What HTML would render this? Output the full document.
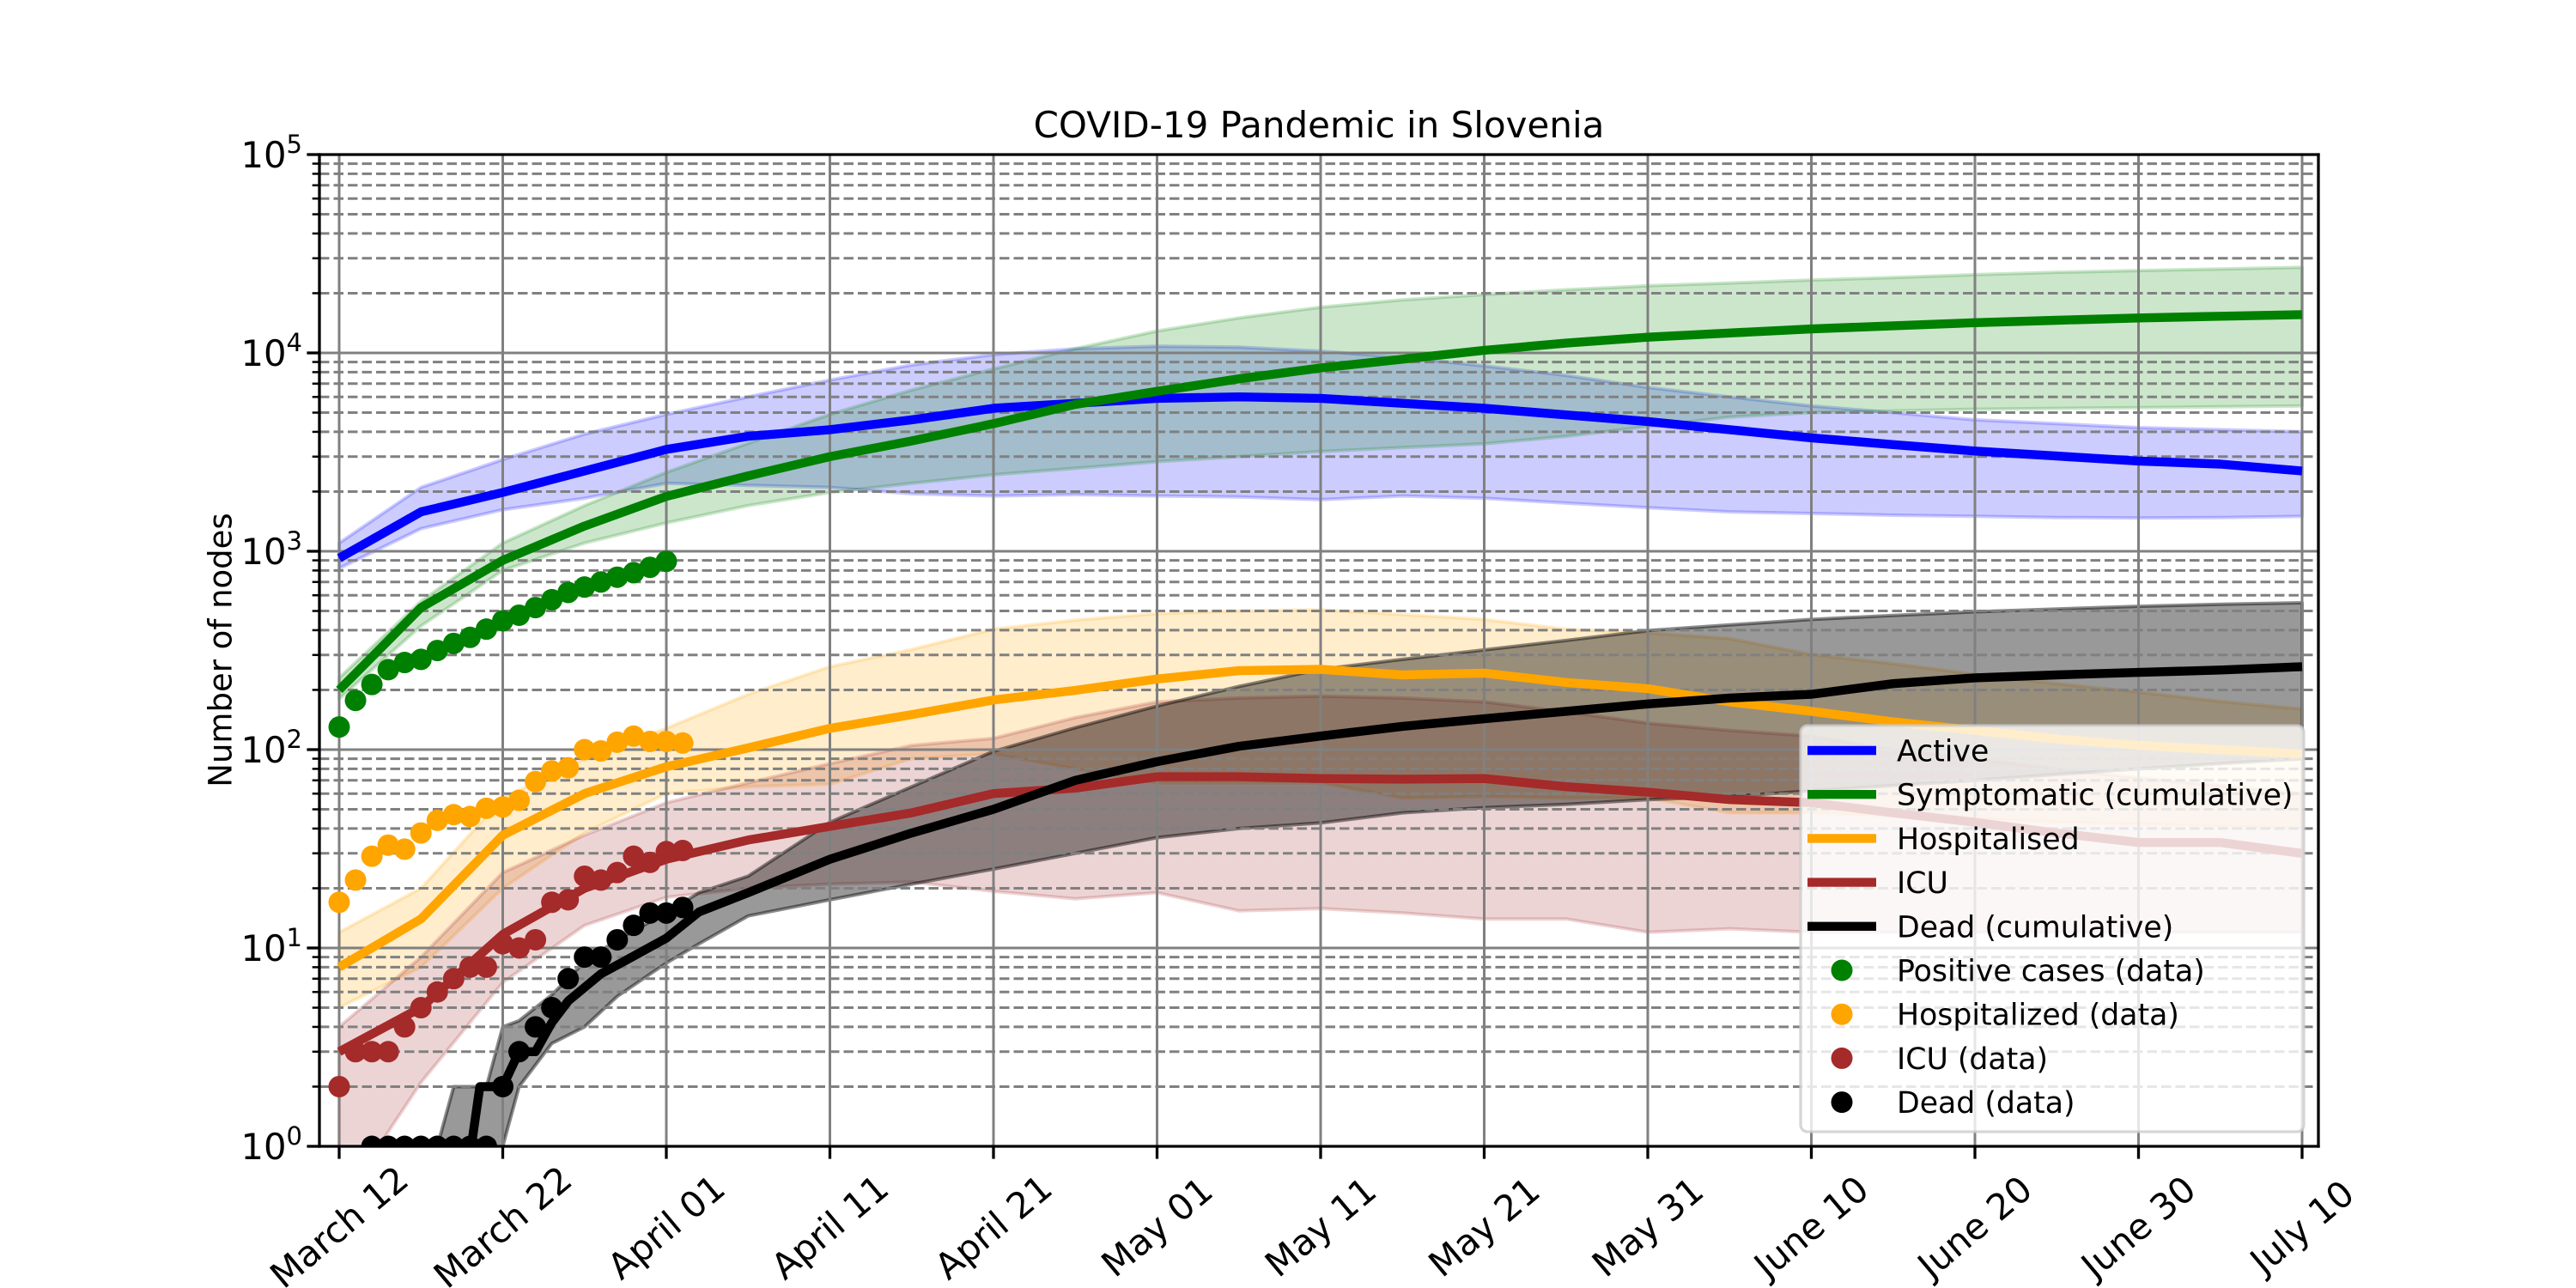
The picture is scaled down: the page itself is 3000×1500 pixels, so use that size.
<!DOCTYPE html>
<html><head><meta charset="utf-8"><title>COVID-19 Pandemic in Slovenia</title>
<style>html,body{margin:0;padding:0;background:#fff}svg{display:block}text{font-family:"DejaVu Sans","Liberation Sans",sans-serif;fill:#000}</style>
</head><body>
<svg id="chart" xmlns="http://www.w3.org/2000/svg" width="3000" height="1500" viewBox="0 0 3000 1500">
<defs><clipPath id="plotclip"><rect x="372" y="180" width="2328" height="1155"/></clipPath></defs>
<rect x="0" y="0" width="3000" height="1500" fill="#fff"/>
<text x="1536" y="160" font-size="42" text-anchor="middle">COVID-19 Pandemic in Slovenia</text>
<text x="0" y="0" font-size="37" text-anchor="middle" dominant-baseline="central" transform="translate(257,757) rotate(-90)">Number of nodes</text>
<g id="fills" clip-path="url(#plotclip)"></g>
<g id="grid"></g>
<g id="lines" clip-path="url(#plotclip)"></g>
<g id="dots" clip-path="url(#plotclip)"></g>
<g id="axes"></g>
<g id="legend"></g>
</svg>
<script>
// ---- data (days after March 12) ----
const modelDays = [0,5,10,15,20,25,30,35,40,45,50,55,60,65,70,75,80,85,90,95,100,105,110,115,120];
const activeMid = [923,1580,1980,2540,3260,3800,4100,4600,5260,5570,5900,6000,5900,5570,5260,4870,4510,4100,3730,3450,3200,3020,2850,2750,2540];
const activeHi = [1100,2100,2900,3900,4900,6000,7300,8700,9800,10500,10800,10700,10200,9500,8600,7700,6700,6000,5400,5000,4600,4400,4200,4100,4000];
const activeLo = [820,1300,1620,1850,2200,2150,2100,1950,1900,1930,1900,1880,1820,1900,1850,1750,1660,1580,1550,1520,1500,1480,1470,1480,1500];
const sympMid = [200,520,900,1340,1890,2400,3000,3600,4400,5500,6400,7400,8400,9300,10300,11200,12000,12600,13200,13700,14200,14600,15000,15300,15600];
const sympHi = [230,560,1100,1700,2500,3500,4900,6500,8300,10500,12900,15000,17000,18500,19700,20800,21800,22500,23300,24000,24800,25500,26000,26500,27000];
const sympLo = [180,420,800,1100,1390,1700,1980,2200,2430,2620,2830,3000,3180,3330,3480,3800,4250,4750,5000,5100,5200,5250,5300,5350,5400];
const hospMid = [8,14,37,60,82,102,128,150,178,199,227,250,254,238,243,218,203,174,156,138,125,113,105,100,95];
const hospHi = [12,20,57,90,128,190,262,320,405,450,485,500,507,480,453,405,388,363,302,271,240,215,195,175,160];
const hospLo = [5,8,20,38,60,65,67,90,95,80,68,68,68,57,58,57,57,48,48,46,45,43,42,41,40];
const icuMid = [3,5,11.7,20,28,35,41,48,60,64,73,73,71.5,71,71.5,65,61,56,54,48,43,38,34,34,30];
const icuHi = [4,9,24,37,54,68,85,105,114,145,174,182,186,182,174,155,136,125,117,100,90,80,72,66,60];
const icuLo = [0.5,2.1,6.7,13,18,20,21,21.5,19.3,17.7,19,15.4,15.8,15,14,14,12,12.5,12,12,12,12,12,12,12];
const deadDays = [0,8,8.6,10,11,12,13,14,16,18,20,22,25,30,35,40,45,50,55,60,65,70,75,80,85,90,95,100,105,110,115,120];
const deadMid = [0.5,0.9,2,2,3,3,4.2,5.4,7.4,9.1,11.2,15.2,19,28,38,50,70,87,104,117,131,143,156,170,182,190,215,230,238,245,252,262];
const deadBandDays = [6,7,9,10,11,13,15,17,20,22,25,30,35,40,45,50,55,60,65,70,75,80,85,90,95,100,105,110,115,120];
const deadHi = [1,2,2,4,4.3,5.8,8.5,11,15,19,23,43,65,98,129,166,208,254,285,318,355,398,425,453,475,495,512,528,540,550];
const deadLo = [0.3,0.4,0.6,1,2,3.3,4,5.7,8.4,10.5,14.5,17.5,21,25,30,36,40,42.7,48,51,53,56,58,62,66,70,75,80,85,90];
const posData = [130,177,213,253,275,285,316,343,368,405,446,476,520,570,620,660,700,740,780,830,890];
const hospData = [17,22,29,33,31.5,38,44,47,46,50.6,51.4,55.5,69,78,81,100,98.5,109,117,110,110,108];
const icuData = [2,3,3,3,4,5,6,7,8,8,10.5,10,11,17,17.5,23,22,24,29,27,30.6,31];
const deadDataDays = [2,3,4,5,6,7,8,9,10,11,12,13,14,15,16,17,18,19,20,21];
const deadData = [1,1,1,1,1,1,1,1,2,3,4,5,7,9,9,11,13,15,15,16];
const tickLabels = ["March 12","March 22","April 01","April 11","April 21","May 01","May 11","May 21","May 31","June 10","June 20","June 30","July 10"];
const tickDays = [0,10,20,30,40,50,60,70,80,90,100,110,120];
const decadeExps = [0,1,2,3,4,5];

// ---- scales ----
const X0=395, PXD=19.05, YB=1335, DEC=231, AL=372, AR=2700, AT=180;
function xs(d){return X0+PXD*d;}
function ys(v){return YB-DEC*Math.log10(v);}
const NS="http://www.w3.org/2000/svg";
function mk(tag,attrs,parent){const e=document.createElementNS(NS,tag);for(const k in attrs)e.setAttribute(k,attrs[k]);parent.appendChild(e);return e;}
const gF=document.getElementById('fills'),gG=document.getElementById('grid'),gL=document.getElementById('lines'),gD=document.getElementById('dots'),gA=document.getElementById('axes'),gLeg=document.getElementById('legend');

function pathOf(days,vals){return days.map((d,i)=>(i?'L':'M')+xs(d).toFixed(1)+' '+ys(vals[i]).toFixed(1)).join(' ');}
function band(days,hi,lo,color,alpha,edgeAlpha,name){
  let d=pathOf(days,hi);
  for(let i=days.length-1;i>=0;i--)d+=' L'+xs(days[i]).toFixed(1)+' '+ys(lo[i]).toFixed(1);
  d+=' Z';
  const p=mk('path',{d:d,fill:color,'fill-opacity':alpha,stroke:color,'stroke-opacity':edgeAlpha,'stroke-width':4,'stroke-linejoin':'round'},gF);
  
  
}
band(modelDays,activeHi,activeLo,'#0000ff',0.2,0.2,'active-band');
band(modelDays,sympHi,sympLo,'#008000',0.2,0.2,'symptomatic-band');
band(modelDays,hospHi,hospLo,'#ffa500',0.2,0.2,'hospitalised-band');
band(modelDays,icuHi,icuLo,'#a52a2a',0.2,0.2,'icu-band');
band(deadBandDays,deadHi,deadLo,'#000000',0.4,0.45,'dead-band');

// grid
tickDays.forEach((d,i)=>{
  const l=mk('line',{x1:xs(d),x2:xs(d),y1:AT,y2:YB,stroke:'#808080','stroke-width':3},gG);
  
  
});
for(let e=0;e<5;e++){
  for(let m=2;m<=9;m++){
    const y=ys(m*Math.pow(10,e));
    const l=mk('line',{x1:AL,x2:AR,y1:y,y2:y,stroke:'#808080','stroke-width':3,'stroke-dasharray':'11.5 5'},gG);
    
    
  }
}
decadeExps.forEach(e=>{
  const y=ys(Math.pow(10,e));
  const l=mk('line',{x1:AL,x2:AR,y1:y,y2:y,stroke:'#808080','stroke-width':3},gG);
  
  
});

// lines
function line(days,vals,color,name){
  const p=mk('path',{d:pathOf(days,vals),fill:'none',stroke:color,'stroke-width':10.4,'stroke-linejoin':'round','stroke-linecap':'butt'},gL);
  
  
}
line(modelDays,activeMid,'#0000ff','active-line');
line(modelDays,sympMid,'#008000','symptomatic-line');
line(modelDays,hospMid,'#ffa500','hospitalised-line');
line(modelDays,icuMid,'#a52a2a','icu-line');
line(deadDays,deadMid,'#000000','dead-line');

// dots
function dots(days,vals,color,name){
  vals.forEach((v,i)=>{
    const c=mk('circle',{cx:xs(days[i]),cy:ys(v),r:12.5,fill:color},gD);
    
    
  });
}
const seqDays=n=>Array.from({length:n},(_,i)=>i);
dots(seqDays(posData.length),posData,'#008000','positive-cases-point');
dots(seqDays(hospData.length),hospData,'#ffa500','hospitalized-point');
dots(seqDays(icuData.length),icuData,'#a52a2a','icu-point');
dots(deadDataDays,deadData,'#000000','dead-point');

// axes spines & ticks
[[AL,AT,AR,AT],[AL,YB,AR,YB],[AL,AT,AL,YB],[AR,AT,AR,YB]].forEach(s=>{
  const l=mk('line',{x1:s[0],y1:s[1],x2:s[2],y2:s[3],stroke:'#000','stroke-width':3.3,'stroke-linecap':'square'},gA);
  
  
});
tickDays.forEach((d,i)=>{
  const x=xs(d);
  const t=mk('line',{x1:x,x2:x,y1:YB,y2:YB+14.6,stroke:'#000','stroke-width':3.3},gA);
  
  
  const tx=mk('text',{x:x,y:1429,'font-size':41.7,'text-anchor':'middle','dominant-baseline':'central',transform:'rotate(-40 '+x+' 1429)'},gA);
  tx.textContent=tickLabels[i];
  
  
});
decadeExps.forEach(e=>{
  const y=ys(Math.pow(10,e));
  const t=mk('line',{x1:AL-14.6,x2:AL,y1:y,y2:y,stroke:'#000','stroke-width':3.3},gA);
  
  
  const tx=mk('text',{x:352,y:y+15,'font-size':41.7,'text-anchor':'end'},gA);
  const b=mk('tspan',{},tx);b.textContent='10';
  const s=mk('tspan',{dy:-17,'font-size':29},tx);s.textContent=String(e);
  
  
});
for(let e=0;e<5;e++)for(let m=2;m<=9;m++){
  const y=ys(m*Math.pow(10,e));
  const t=mk('line',{x1:AL-8.3,x2:AL,y1:y,y2:y,stroke:'#000','stroke-width':2.5},gA);
  
  
}

// legend
const legLabels=["Active","Symptomatic (cumulative)","Hospitalised","ICU","Dead (cumulative)","Positive cases (data)","Hospitalized (data)","ICU (data)","Dead (data)"];
const legColors=['#0000ff','#008000','#ffa500','#a52a2a','#000000','#008000','#ffa500','#a52a2a','#000000'];
const box=mk('rect',{x:2097,y:845,width:586,height:473,rx:8,fill:'#fff','fill-opacity':0.8,stroke:'#cccccc','stroke-opacity':0.8,'stroke-width':3.3},gLeg);


legLabels.forEach((lab,i)=>{
  const y=874+i*51.2;
  const g=mk('g',{},gLeg);
  
  
  if(i<5) mk('line',{x1:2105,x2:2185,y1:y,y2:y,stroke:legColors[i],'stroke-width':10.4},g);
  else mk('circle',{cx:2145,cy:y,r:12.5,fill:legColors[i]},g);
  const t=mk('text',{x:2209,y:y+12.5,'font-size':34.7},g);
  t.textContent=lab;
});
</script>
</body></html>
